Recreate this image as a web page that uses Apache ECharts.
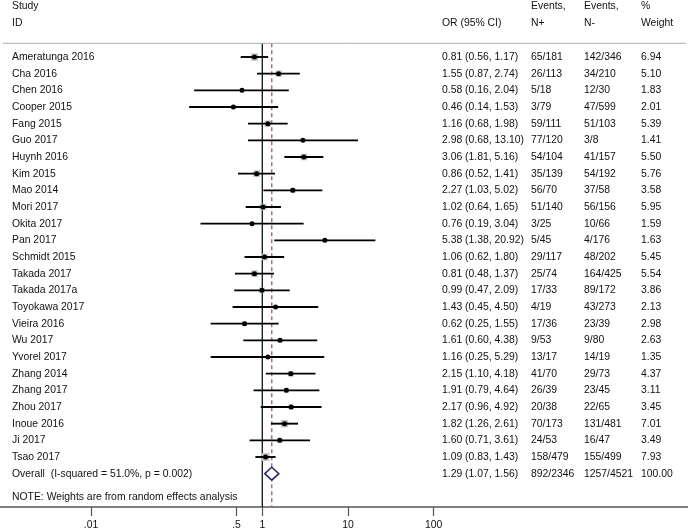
<!DOCTYPE html>
<html>
<head>
<meta charset="utf-8">
<script src="https://cdn.jsdelivr.net/npm/echarts@6/dist/echarts.min.js"></script>
<style>html,body{margin:0;padding:0;background:#fff;}#c{width:688px;height:531px;}</style>
</head>
<body>
<div id="c"></div>
<script>
const studies = ['Ameratunga 2016','Cha 2016','Chen 2016','Cooper 2015','Fang 2015','Guo 2017','Huynh 2016','Kim 2015','Mao 2014','Mori 2017','Okita 2017','Pan 2017','Schmidt 2015','Takada 2017','Takada 2017a','Toyokawa 2017','Vieira 2016','Wu 2017','Yvorel 2017','Zhang 2014','Zhang 2017','Zhou 2017','Inoue 2016','Ji 2017','Tsao 2017'];
const oddsRatio = [0.81,1.55,0.58,0.46,1.16,2.98,3.06,0.86,2.27,1.02,0.76,5.38,1.06,0.81,0.99,1.43,0.62,1.61,1.16,2.15,1.91,2.17,1.82,1.60,1.09];
const ciLow = [0.56,0.87,0.16,0.14,0.68,0.68,1.81,0.52,1.03,0.64,0.19,1.38,0.62,0.48,0.47,0.45,0.25,0.60,0.25,1.10,0.79,0.96,1.26,0.71,0.83];
const ciHigh = [1.17,2.74,2.04,1.53,1.98,13.10,5.16,1.41,5.02,1.65,3.04,20.92,1.80,1.37,2.09,4.50,1.55,4.38,5.29,4.18,4.64,4.92,2.61,3.61,1.43];
const eventsPos = ['65/181','26/113','5/18','3/79','59/111','77/120','54/104','35/139','56/70','51/140','3/25','5/45','29/117','25/74','17/33','4/19','17/36','9/53','13/17','41/70','26/39','20/38','70/173','24/53','158/479'];
const eventsNeg = ['142/346','34/210','12/30','47/599','51/103','3/8','41/157','54/192','37/58','56/156','10/66','4/176','48/202','164/425','89/172','43/273','23/39','9/80','14/19','29/73','23/45','22/65','131/481','16/47','155/499'];
const weights = [6.94,5.10,1.83,2.01,5.39,1.41,5.50,5.76,3.58,5.95,1.59,1.63,5.45,5.54,3.86,2.13,2.98,2.63,1.35,4.37,3.11,3.45,7.01,3.49,7.93];

const overallLabel = 'Overall  (I-squared = 51.0%, p = 0.002)';
const overallOR = 1.29, overallLow = 1.07, overallHigh = 1.56;
const overallPos = '892/2346', overallNeg = '1257/4521', overallWeight = '100.00';
const noteText = 'NOTE: Weights are from random effects analysis';

const headerTop = ['Study', '', 'Events,', 'Events,', '%'];
const headerBottom = ['ID', 'OR (95% CI)', 'N+', 'N-', 'Weight'];

const tickValues = [0.01, 0.5, 1, 10, 100];
const tickLabels = ['.01', '.5', '1', '10', '100'];

const fmt = v => v.toFixed(2);
const orText = (o, l, h) => fmt(o) + ' (' + fmt(l) + ', ' + fmt(h) + ')';

const rows = [];
rows.push({ v: -3.05, cells: headerTop });
rows.push({ v: -2.03, cells: headerBottom });
studies.forEach((s, i) => rows.push({ v: i, cells: [s, orText(oddsRatio[i], ciLow[i], ciHigh[i]), eventsPos[i], eventsNeg[i], fmt(weights[i])] }));
rows.push({ v: studies.length, cells: [overallLabel, orText(overallOR, overallLow, overallHigh), overallPos, overallNeg, overallWeight] });
rows.push({ v: 26.42, cells: [noteText, '', '', '', ''] });

const colX = [12, 442, 531, 584, 641];
const FONT = '"Liberation Sans", Arial, sans-serif';
const FS = 10.4;
const TXT = '#111';

const chart = echarts.init(document.getElementById('c'), null, { renderer: 'canvas' });

const option = {
  animation: false,
  backgroundColor: '#fff',
  grid: { left: 0, right: 0, top: 40.333, bottom: 24 },
  xAxis: {
    type: 'log', logBase: 10,
    min: 0.000866, max: 93400,
    axisLine: { onZero: false, lineStyle: { color: '#808080', width: 2 } },
    axisTick: { customValues: tickValues, length: 9, lineStyle: { color: '#555', width: 1.2 } },
    axisLabel: {
      customValues: tickValues, margin: 13, fontSize: FS, fontFamily: FONT, color: TXT,
      formatter: function (val) {
        let best = 0, bd = Infinity;
        tickValues.forEach((t, k) => { const d = Math.abs(Math.log10(t) - Math.log10(val)); if (d < bd) { bd = d; best = k; } });
        return tickLabels[best];
      }
    },
    splitLine: { show: false }
  },
  yAxis: { type: 'value', inverse: true, min: -1, max: 27, show: false },
  series: [
    {
      type: 'custom', z: 1, silent: true,
      data: [[1, -0.82, 27, 0], [overallOR, -0.82, 27, 1]],
      renderItem: function (params, api) {
        const a = api.coord([api.value(0), api.value(1)]);
        const b = api.coord([api.value(0), api.value(2)]);
        const dashed = api.value(3) === 1;
        return {
          type: 'line',
          shape: { x1: a[0], y1: a[1], x2: b[0], y2: b[1] },
          style: dashed ? { stroke: '#9a5f5f', lineWidth: 1.3, lineDash: [4, 3] } : { stroke: '#111', lineWidth: 1.3 }
        };
      }
    },
    {
      type: 'custom', z: 1, silent: true,
      data: [[-0.82]],
      renderItem: function (params, api) {
        const y = api.coord([1, api.value(0)])[1];
        return { type: 'line', shape: { x1: 3, y1: y, x2: 686, y2: y }, style: { stroke: '#aaa', lineWidth: 1 } };
      }
    },
    {
      type: 'custom', z: 3, silent: true,
      encode: { x: 0, y: 1 },
      data: studies.map((s, i) => [oddsRatio[i], i, ciLow[i], ciHigh[i], weights[i]]),
      renderItem: function (params, api) {
        const c = api.coord([api.value(0), api.value(1)]);
        const l = api.coord([api.value(2), api.value(1)]);
        const h = api.coord([api.value(3), api.value(1)]);
        const side = 2.8 * Math.sqrt(api.value(4));
        return {
          type: 'group',
          children: [
            { type: 'rect', shape: { x: c[0] - side / 2, y: c[1] - side / 2, width: side, height: side }, style: { fill: '#c4c4c4' } },
            { type: 'line', shape: { x1: l[0], y1: l[1], x2: h[0], y2: h[1] }, style: { stroke: '#000', lineWidth: 1.9 } },
            { type: 'circle', shape: { cx: c[0], cy: c[1], r: 2.5 }, style: { fill: '#000' } }
          ]
        };
      }
    },
    {
      type: 'custom', z: 3, silent: true,
      encode: { x: 0, y: 1 },
      data: [[overallOR, studies.length, overallLow, overallHigh]],
      renderItem: function (params, api) {
        const c = api.coord([api.value(0), api.value(1)]);
        const l = api.coord([api.value(2), api.value(1)]);
        const h = api.coord([api.value(3), api.value(1)]);
        const hh = 6.5;
        return {
          type: 'polygon',
          shape: { points: [[l[0], c[1]], [c[0], c[1] - hh], [h[0], c[1]], [c[0], c[1] + hh]] },
          style: { fill: '#fff', stroke: '#24246e', lineWidth: 1.5 }
        };
      }
    },
    {
      type: 'custom', z: 4, silent: true,
      data: rows.map(r => [1, r.v]),
      encode: { x: 0, y: 1 },
      renderItem: function (params, api) {
        const y = api.coord([1, api.value(1)])[1];
        const r = rows[params.dataIndex];
        const children = [];
        r.cells.forEach((t, k) => {
          if (!t) return;
          children.push({
            type: 'text',
            style: { text: t, x: colX[k], y: y, verticalAlign: 'middle', align: 'left', fill: TXT, fontSize: FS, fontFamily: FONT }
          });
        });
        return { type: 'group', children: children };
      }
    }
  ]
};
chart.setOption(option);
</script>
</body>
</html>
